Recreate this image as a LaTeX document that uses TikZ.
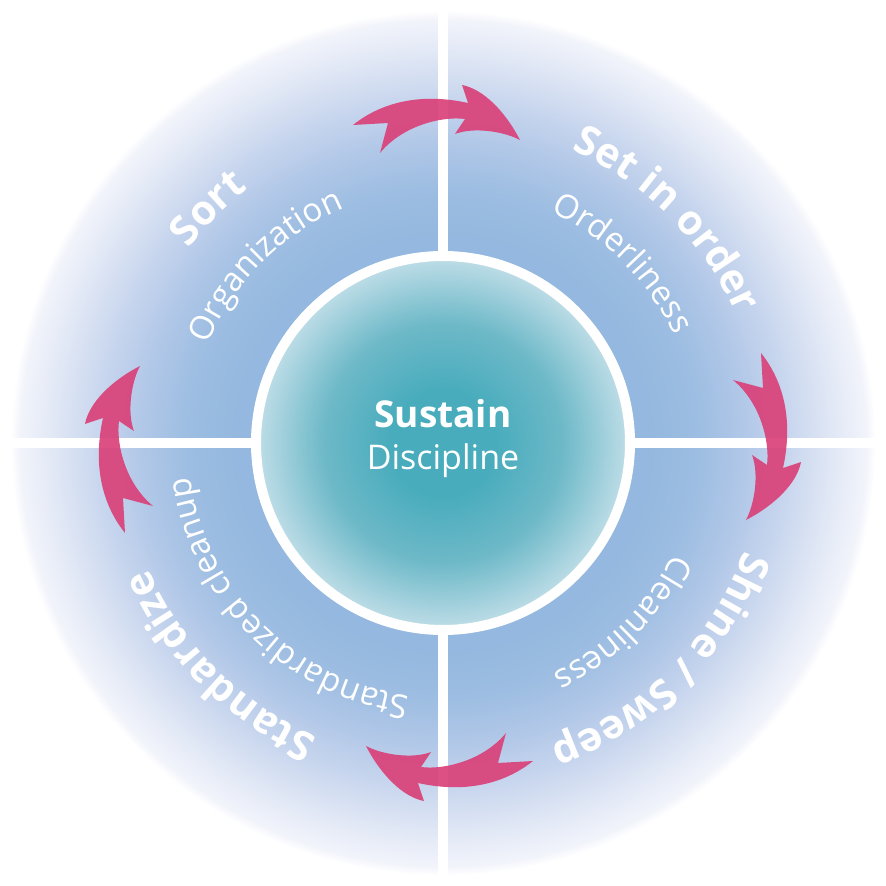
\documentclass[tikz,border=0pt]{standalone}
\usepackage{fontspec}
\setmainfont{Open Sans}
\usetikzlibrary{decorations.text}
\definecolor{arrowpink}{RGB}{218,62,118}
\definecolor{bgA}{RGB}{148,184,223}
\definecolor{bgB}{RGB}{158,190,226}
\definecolor{bgC}{RGB}{178,200,232}
\definecolor{bgD}{RGB}{200,214,238}
\definecolor{bgE}{RGB}{224,231,245}
\definecolor{bgF}{RGB}{242,244,251}
\definecolor{tealA}{RGB}{72,172,188}
\definecolor{tealB}{RGB}{110,185,200}
\definecolor{tealC}{RGB}{192,222,232}
\pgfdeclareradialshading{bgshade}{\pgfpoint{0bp}{0bp}}{color(0bp)=(bgA); color(11.7bp)=(bgA); color(14.63bp)=(bgB); color(17.07bp)=(bgC); color(19.5bp)=(bgD); color(21.9bp)=(bgE); color(23.9bp)=(bgF); color(24.4bp)=(white); color(50bp)=(white)}
\pgfdeclareradialshading{coreshade}{\pgfpoint{0bp}{0bp}}{color(0bp)=(tealA); color(7bp)=(tealA); color(16bp)=(tealB); color(25bp)=(tealC); color(50bp)=(tealC)}
\newcommand\headfont{\bfseries\fontsize{41}{48}\selectfont}
\newcommand\subfont{\fontsize{33}{40}\selectfont}
\newcommand\arrowshape{(-90,318) .. controls (-60,342) and (-20,350) .. (25,340) -- (19,358) .. controls (40,354) and (62,332) .. (77,303) .. controls (60,312) and (30,316) .. (12,309) -- (22,324) .. controls (0,327) and (-40,318) .. (-63,290) -- (-55,320) -- cycle}
\tikzset{
  headtext/.style={decorate, decoration={text along path, text align=center, text color=white, text={|\headfont|#1}}},
  subtext/.style={decorate, decoration={text along path, text align=center, text color=white, text={|\subfont|#1}}},
  divider/.style={draw=white, line width=9pt},
  cyclearrow/.style={fill=arrowpink, fill opacity=0.9},
  centertext/.style={text=white, anchor=base, inner sep=0pt}
}
\begin{document}
\begin{tikzpicture}[x=1pt, y=1pt]
\useasboundingbox (-443,-443) rectangle (443,443);
\fill[shading=bgshade] (-443,-443) rectangle (443,443);
\draw[divider] (0,-432) -- (0,432);
\draw[divider] (-432,0) -- (432,0);
\fill[shading=coreshade] (0,0) circle[radius=187];
\draw[white, line width=10pt] (0,0) circle[radius=187];
\node[centertext, font=\bfseries\fontsize{37}{44}\selectfont] (sustain) at (0,15) {Sustain};
\node[centertext, font=\fontsize{34}{40}\selectfont] (discipline) at (0,-27) {Discipline};
% quadrant texts
\path[headtext={Sort}] (195:320) arc[start angle=195, end angle=75, radius=320];
\path[subtext={Organization}] (195:255) arc[start angle=195, end angle=75, radius=255];
\path[headtext={Set in order}] (105:320) arc[start angle=105, end angle=-15, radius=320];
\path[subtext={Orderliness}] (105:255) arc[start angle=105, end angle=-15, radius=255];
\path[headtext={Shine / Sweep}] (15:320) arc[start angle=15, end angle=-105, radius=320];
\path[subtext={Cleanliness}] (15:255) arc[start angle=15, end angle=-105, radius=255];
\path[headtext={Standardize}] (285:320) arc[start angle=285, end angle=165, radius=320];
\path[subtext={Standardized cleanup}] (285:255) arc[start angle=285, end angle=165, radius=255];
% arrows
\foreach \r in {0,-90,-180,-270} {
  \begin{scope}[rotate=\r]
    \fill[cyclearrow] \arrowshape;
  \end{scope}
}
\end{tikzpicture}
\end{document}
